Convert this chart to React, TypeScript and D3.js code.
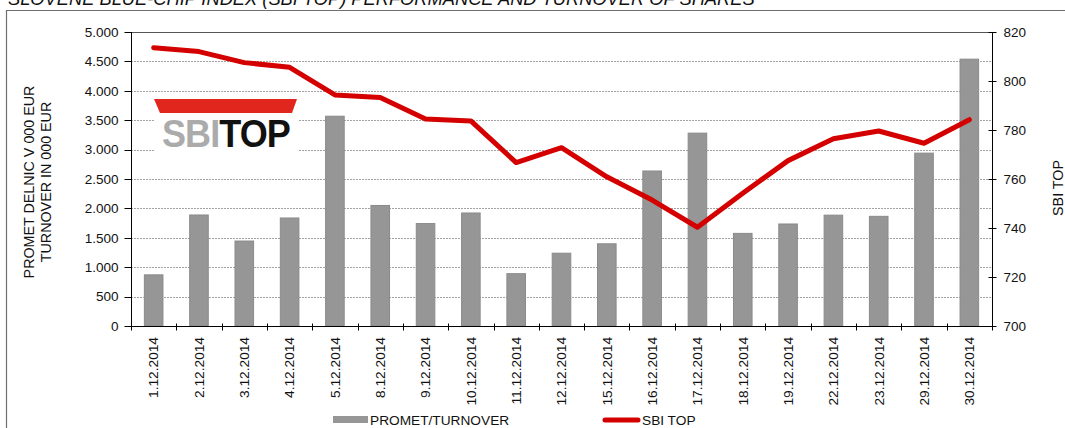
import * as d3 from "d3";
import React, { useEffect, useRef } from "react";

const dates = [
  "1.12.2014", "2.12.2014", "3.12.2014", "4.12.2014", "5.12.2014", "8.12.2014",
  "9.12.2014", "10.12.2014", "11.12.2014", "12.12.2014", "15.12.2014", "16.12.2014",
  "17.12.2014", "18.12.2014", "19.12.2014", "22.12.2014", "23.12.2014", "29.12.2014",
  "30.12.2014",
];

const turnover = [
  870, 1888, 1445, 1837, 3568, 2050, 1742, 1922, 890, 1238, 1398, 2636,
  3280, 1575, 1735, 1885, 1865, 2940, 4538,
];

const sbiTop = [
  813.6, 812.0, 807.5, 805.6, 794.3, 793.3, 784.5, 783.7, 766.7, 772.8, 760.9, 751.4,
  740.3, 754.2, 767.5, 776.4, 779.6, 774.6, 784.2,
];

const leftTicks = [0, 500, 1000, 1500, 2000, 2500, 3000, 3500, 4000, 4500, 5000];
const rightTicks = [700, 720, 740, 760, 780, 800, 820];

const title = "SLOVENE BLUE-CHIP INDEX (SBI TOP) PERFORMANCE AND TURNOVER OF SHARES";
const leftTitle = ["PROMET DELNIC V 000 EUR", "TURNOVER IN 000 EUR"];
const rightTitle = "SBI TOP";
const barLabel = "PROMET/TURNOVER";
const lineLabel = "SBI TOP";

const W = 1065;
const H = 428;
const FONT = "'Liberation Sans', Arial, sans-serif";

const App: React.FC = () => {
  const svgRef = useRef<SVGSVGElement | null>(null);

  useEffect(() => {
    if (!svgRef.current) {
      return;
    }
    const svg = d3.select(svgRef.current);
    svg.selectAll("*").remove();

    const left = 131;
    const right = 992;
    const top = 32;
    const bottom = 326;

    const x = d3.scaleBand<string>()
      .domain(dates)
      .range([left, right])
      .paddingInner(0.59)
      .paddingOuter(0.295);
    const yL = d3.scaleLinear().domain([0, 5000]).range([bottom, top]);
    const yR = d3.scaleLinear().domain([700, 820]).range([bottom, top]);

    const fmt = d3.formatLocale({
      decimal: ",",
      thousands: ".",
      grouping: [3],
      currency: ["", " €"],
    }).format(",");

    svg.append("rect")
      .attr("width", W).attr("height", H).attr("fill", "#fff");

    // outer frame
    svg.append("path")
      .attr("d", `M6.5,${H + 2}V10.5H${W + 2}`)
      .attr("fill", "none")
      .attr("stroke", "#6e6e6e")
      .attr("stroke-width", 1.2);

    svg.append("text")
      .attr("x", 8).attr("y", 5)
      .attr("font-family", FONT)
      .attr("font-style", "italic")
      .attr("font-size", 18.3)
      .attr("fill", "#111")
      .text(title);

    // gridlines
    svg.append("g")
      .selectAll("line")
      .data(leftTicks.filter(t => t > 0 && t < 5000))
      .enter().append("line")
      .attr("x1", left).attr("x2", right)
      .attr("y1", d => Math.round(yL(d)) + 0.5)
      .attr("y2", d => Math.round(yL(d)) + 0.5)
      .attr("stroke", "#a3a3a3")
      .attr("stroke-dasharray", "2,1");

    // logo
    const logo = svg.append("g");
    logo.append("rect")
      .attr("x", 154).attr("y", 97).attr("width", 144).attr("height", 56)
      .attr("fill", "#fff");
    logo.append("path")
      .attr("d", "M154,99H297L292,113H160Z")
      .attr("fill", "#e0261d");
    logo.append("text")
      .attr("x", 162).attr("y", 147)
      .attr("font-family", "'Liberation Sans Narrow', 'Liberation Sans', Arial, sans-serif")
      .attr("font-weight", "bold")
      .attr("font-size", 39)
      .attr("letter-spacing", -1)
      .attr("textLength", 128)
      .attr("lengthAdjust", "spacingAndGlyphs")
      .call(t => {
        t.append("tspan").attr("fill", "#ababab").text("SBI");
        t.append("tspan").attr("fill", "#111").text("TOP");
      });

    // bars
    svg.append("g")
      .selectAll("rect")
      .data(turnover)
      .enter().append("rect")
      .attr("x", (_, i) => x(dates[i])!)
      .attr("y", d => yL(d))
      .attr("width", x.bandwidth())
      .attr("height", d => bottom - yL(d))
      .attr("fill", "#969696")
      .attr("stroke", "#8a8a8a")
      .attr("stroke-width", 1);

    // plot top border
    svg.append("line")
      .attr("x1", left).attr("x2", right)
      .attr("y1", top + 0.5).attr("y2", top + 0.5)
      .attr("stroke", "#555");

    // left axis
    const gL = svg.append("g").attr("transform", `translate(${left + 0.5},0)`);
    gL.append("line").attr("y1", top).attr("y2", bottom + 1).attr("stroke", "#000");
    gL.selectAll("line.tick")
      .data(leftTicks)
      .enter().append("line")
      .attr("class", "tick")
      .attr("x1", -7).attr("x2", 0)
      .attr("y1", d => Math.round(yL(d)) + 0.5)
      .attr("y2", d => Math.round(yL(d)) + 0.5)
      .attr("stroke", "#000");
    gL.selectAll("text")
      .data(leftTicks)
      .enter().append("text")
      .attr("x", -13)
      .attr("y", d => yL(d))
      .attr("dy", "0.35em")
      .attr("text-anchor", "end")
      .attr("font-family", FONT)
      .attr("font-size", 13.5)
      .attr("fill", "#111")
      .text(d => fmt(d));

    // right axis
    const gR = svg.append("g").attr("transform", `translate(${right + 0.5},0)`);
    gR.append("line").attr("y1", top).attr("y2", bottom + 1).attr("stroke", "#000");
    gR.selectAll("line.tick")
      .data(rightTicks)
      .enter().append("line")
      .attr("class", "tick")
      .attr("x1", -4).attr("x2", 4)
      .attr("y1", d => Math.round(yR(d)) + 0.5)
      .attr("y2", d => Math.round(yR(d)) + 0.5)
      .attr("stroke", "#000");
    gR.selectAll("text")
      .data(rightTicks)
      .enter().append("text")
      .attr("x", 11)
      .attr("y", d => yR(d))
      .attr("dy", "0.35em")
      .attr("font-family", FONT)
      .attr("font-size", 13.5)
      .attr("fill", "#111")
      .text(d => String(d));

    // bottom axis
    const gB = svg.append("g").attr("transform", `translate(0,${bottom + 0.5})`);
    gB.append("line").attr("x1", left).attr("x2", right + 1).attr("stroke", "#000");
    gB.selectAll("line.tick")
      .data(d3.range(dates.length + 1))
      .enter().append("line")
      .attr("class", "tick")
      .attr("x1", i => Math.round(left + i * x.step()) + 0.5)
      .attr("x2", i => Math.round(left + i * x.step()) + 0.5)
      .attr("y1", -3).attr("y2", 4)
      .attr("stroke", "#000");
    gB.selectAll("text")
      .data(dates)
      .enter().append("text")
      .attr("transform", d => `translate(${x(d)! + x.bandwidth() / 2},10.5) rotate(-90)`)
      .attr("dy", "0.35em")
      .attr("text-anchor", "end")
      .attr("font-family", FONT)
      .attr("font-size", 13.7)
      .attr("fill", "#111")
      .text(d => d);

    // line
    const line = d3.line<number>()
      .x((_, i) => x(dates[i])! + x.bandwidth() / 2)
      .y(d => yR(d));
    svg.append("path")
      .datum(sbiTop)
      .attr("d", line)
      .attr("fill", "none")
      .attr("stroke", "#d40000")
      .attr("stroke-width", 5)
      .attr("stroke-linejoin", "round")
      .attr("stroke-linecap", "round");

    // axis titles
    const midY = (top + bottom) / 2 + 3;
    leftTitle.forEach((t, i) => {
      svg.append("text")
        .attr("transform", `translate(${28.5 + i * 17.5},${midY}) rotate(-90)`)
        .attr("dy", "0.35em")
        .attr("text-anchor", "middle")
        .attr("font-family", FONT)
        .attr("font-size", 14.3)
        .attr("fill", "#111")
        .text(t);
    });
    svg.append("text")
      .attr("transform", `translate(1058,${midY + 6}) rotate(-90)`)
      .attr("dy", "0.35em")
      .attr("text-anchor", "middle")
      .attr("font-family", FONT)
      .attr("font-size", 14.3)
      .attr("fill", "#111")
      .text(rightTitle);

    // legend
    const lg = svg.append("g");
    lg.append("rect")
      .attr("x", 333).attr("y", 416).attr("width", 35).attr("height", 7)
      .attr("fill", "#969696");
    lg.append("text")
      .attr("x", 370).attr("y", 424.5)
      .attr("font-family", FONT)
      .attr("font-size", 13.7)
      .attr("fill", "#111")
      .text(barLabel);
    lg.append("line")
      .attr("x1", 605).attr("x2", 638)
      .attr("y1", 420).attr("y2", 420)
      .attr("stroke", "#d40000")
      .attr("stroke-width", 5)
      .attr("stroke-linecap", "round");
    lg.append("text")
      .attr("x", 642).attr("y", 424.5)
      .attr("font-family", FONT)
      .attr("font-size", 13.7)
      .attr("fill", "#111")
      .text(lineLabel);
  }, []);

  return (
    <svg
      ref={svgRef}
      width={W}
      height={H}
      style={{ position: "absolute", left: 0, top: 0, display: "block" }}
    />
  );
};

export default App;
